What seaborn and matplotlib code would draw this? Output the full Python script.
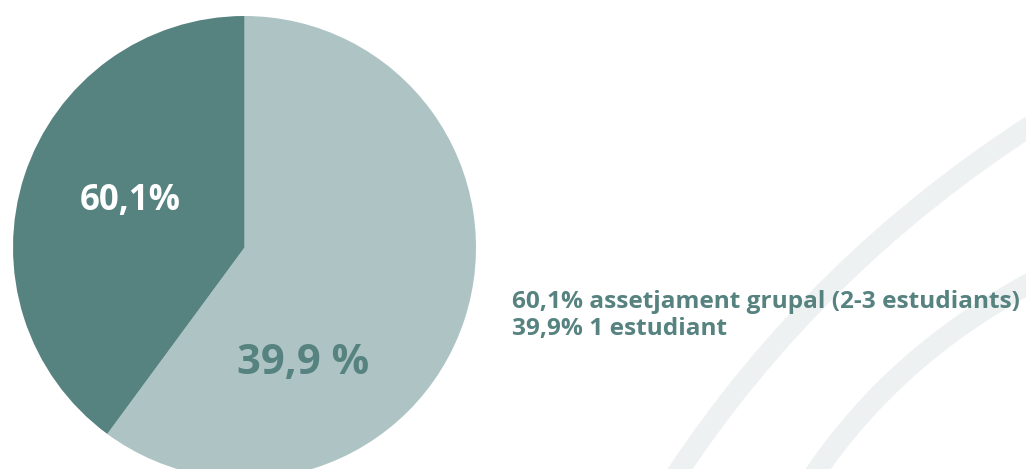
import matplotlib
matplotlib.use("Agg")
import matplotlib.pyplot as plt
import seaborn as sns
from matplotlib.path import Path
from matplotlib.patches import PathPatch

# data
shares = [60.1, 39.9]
slice_labels = ["39,9 %", "60,1%"]
legend_lines = ["60,1% assetjament grupal (2-3 estudiants)", "39,9% 1 estudiant"]

light = "#aec4c4"
dark = "#568280"
band = "#eef1f1"


def main():
    sns.set_theme(style="white")
    plt.rcParams["font.family"] = ["Open Sans", "DejaVu Sans"]

    W, H = 1026, 469
    fig = plt.figure(figsize=(W / 100, H / 100), dpi=100)
    fig.patch.set_facecolor("white")

    # decorative background bands
    bg = fig.add_axes([0, 0, 1, 1])
    bg.set_xlim(0, W)
    bg.set_ylim(H, 0)
    bg.axis("off")
    for p0, p1, p2 in [((676, 475), (815, 265), (1032, 125)),
                       ((814, 475), (895, 355), (1032, 282))]:
        path = Path([p0, p1, p2], [Path.MOVETO, Path.CURVE3, Path.CURVE3])
        bg.add_patch(PathPatch(path, fill=False, edgecolor=band, lw=15,
                               capstyle="butt"))

    # pie
    cx, cy, r = 244.5, 247.5, 231.5
    ax = fig.add_axes([(cx - r) / W, (H - cy - r) / H, 2 * r / W, 2 * r / H])
    ax.pie(shares, colors=[light, dark], startangle=90, counterclock=False,
           radius=1, wedgeprops=dict(linewidth=0))
    ax.set_xlim(-1, 1)
    ax.set_ylim(-1, 1)
    ax.set_aspect("equal")
    ax.axis("off")

    ax.text(0.253, -0.50, slice_labels[0], color=dark, fontsize=30,
            fontweight="bold", ha="center", va="center")
    ax.text(-0.495, 0.20, slice_labels[1], color="white", fontsize=25,
            fontweight="bold", ha="center", va="center")

    fig.text(512 / W, 1 - 308 / H, legend_lines[0], color=dark, fontsize=17.6,
             fontweight="bold", ha="left", va="baseline")
    fig.text(512 / W, 1 - 335 / H, legend_lines[1], color=dark, fontsize=17.6,
             fontweight="bold", ha="left", va="baseline")

    fig.savefig("out.png", dpi=100)


if __name__ == "__main__":
    main()
